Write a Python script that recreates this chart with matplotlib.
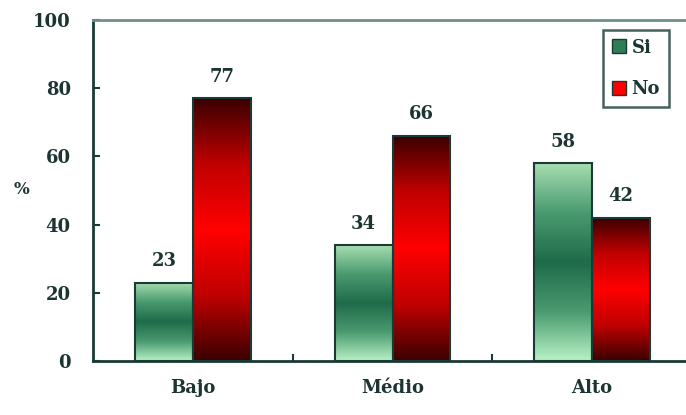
import numpy as np
import matplotlib
matplotlib.use("Agg")
import matplotlib.pyplot as plt
from matplotlib.colors import LinearSegmentedColormap
from matplotlib.patches import Patch

categorias = ["Bajo", "Médio", "Alto"]
si = [23, 34, 58]
no = [77, 66, 42]
y_ticks = [0, 20, 40, 60, 80, 100]

TXT = '#1c3532'
EDGE = '#1a3a36'
plt.rcParams['font.family'] = 'DejaVu Serif'
plt.rcParams['font.weight'] = 'bold'

cmap_verde = LinearSegmentedColormap.from_list(
    'v', ['#b8f2c4', '#4a9a70', '#1f6b4a', '#4a9a70', '#a6deb0'])
cmap_rojo = LinearSegmentedColormap.from_list(
    'r', ['#3a0000', '#c00000', '#ff0000', '#c00000', '#3a0000'])
grad = np.linspace(0, 1, 256).reshape(-1, 1)

fig = plt.figure(figsize=(6.86, 4.15), dpi=100)
ax = fig.add_axes([93/686, (415-361)/415, 599/686, 341/415])

x = np.arange(len(categorias))
w = 0.29
b_si = ax.bar(x - w/2, si, w, facecolor='none', edgecolor=EDGE, linewidth=1.5, zorder=3)
b_no = ax.bar(x + w/2, no, w, facecolor='none', edgecolor=EDGE, linewidth=1.5, zorder=3)

for bars, cm in ((b_si, cmap_verde), (b_no, cmap_rojo)):
    for b in bars:
        x0, h, bw = b.get_x(), b.get_height(), b.get_width()
        ax.imshow(grad, extent=[x0, x0 + bw, 0, h], origin='lower', aspect='auto',
                  cmap=cm, zorder=2, interpolation='bilinear')
    for b in bars:
        ax.annotate(f"{int(b.get_height())}", (b.get_x() + b.get_width()/2, b.get_height()),
                    xytext=(0, 9), textcoords='offset points', ha='center', va='bottom',
                    fontsize=13, color=TXT, fontweight='bold')

ax.set_xlim(-0.5, 2.5)
ax.set_ylim(0, 100)
ax.set_yticks(y_ticks)
ax.set_xticks(x)
ax.set_xticklabels(categorias)
ax.set_xticks([0.5, 1.5], minor=True)
ax.tick_params(axis='x', which='major', length=0, pad=13, labelsize=13, labelcolor=TXT)
ax.tick_params(axis='x', which='minor', direction='in', length=5, width=1.5, color=EDGE)
ax.tick_params(axis='y', direction='in', length=5, width=1.5, color=EDGE, pad=16,
               labelsize=13, labelcolor=TXT)

for s in ('left', 'bottom'):
    ax.spines[s].set_color(EDGE)
    ax.spines[s].set_linewidth(2)
ax.spines['top'].set_color('#6f8f8b')
ax.spines['top'].set_linewidth(2)
ax.spines['right'].set_visible(False)

fig.text(22/686, 1 - 190/415, '%', ha='center', va='center', fontsize=12,
         color=TXT, fontweight='bold')

handles = [Patch(facecolor='#2f7d55', edgecolor=EDGE), Patch(facecolor='#ff0000', edgecolor=EDGE)]
leg = ax.legend(handles, ['Si', 'No'], loc='upper right', bbox_to_anchor=(0.962, 0.972),
                frameon=True, fancybox=False, fontsize=13, handlelength=0.8, handleheight=0.8,
                handletextpad=0.3, labelspacing=1.3, borderpad=0.5, borderaxespad=0)
leg.get_frame().set_edgecolor(EDGE)
leg.get_frame().set_linewidth(1.8)
for t in leg.get_texts():
    t.set_color(TXT)

fig.savefig('out.png', dpi=100)
